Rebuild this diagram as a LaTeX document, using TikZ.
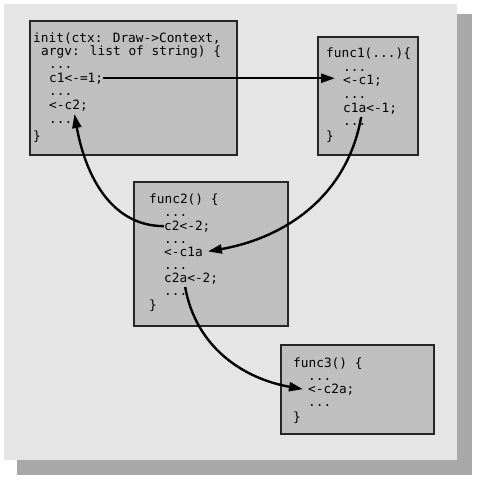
\documentclass[tikz,border=0pt]{standalone}
\usepackage{fontspec}
\newfontfamily\codefont{DejaVu Sans Mono}
\usetikzlibrary{arrows.meta,calc,positioning}

\begin{document}
\begin{tikzpicture}[
  x=1pt, y=-1pt,
  every node/.style={inner sep=0},
  fnbox/.style={draw=black!85, line width=1.6pt, fill=black!25, anchor=north west},
  code/.style={anchor=base west, font=\codefont\fontsize{12.8}{14}\selectfont},
  flow/.style={line width=2.4pt, -{Triangle[length=14pt,width=9pt]}}
]
\useasboundingbox (0,0) rectangle (478,480);
% backdrop and its shadow
\fill[black!34] (17,14) rectangle (472,475);
\fill[black!10] (4,4) rectangle (457,460);

% init
\node[fnbox, minimum width=207pt, minimum height=134pt] (init) at (29,20) {};
\node[code] (initsig) at (33,42) {init(ctx: Draw->Context,};
\node[code] (initargs) at (41,55) {argv: list of string) \{};
\node[code] (initdotsa) at (49,68) {...};
\node[code] (c1set) at (49,82) {c1<-=1;};
\node[code] (initdotsb) at (49,95) {...};
\node[code] (c2get) at (49,109) {<-c2;};
\node[code] (initdotsc) at (49,123) {...};
\node[code] (initend) at (33,140) {\}};

% func1
\node[fnbox, minimum width=100pt, minimum height=118pt] (func1) at (317,36) {};
\node[code] (funcasig) at (326,57) {func1(...)\{};
\node[code] (funcadotsa) at (343,71) {...};
\node[code] (c1get) at (343,84) {<-c1;};
\node[code] (funcadotsb) at (343,98) {...};
\node[code] (c1aset) at (343,112) {c1a<-1;};
\node[code] (funcadotsc) at (343,125) {...};
\node[code] (funcaend) at (326,140) {\}};

% func2
\node[fnbox, minimum width=154pt, minimum height=144pt] (func2) at (133,181) {};
\node[code] (funcbsig) at (149,203) {func2() \{};
\node[code] (funcbdotsa) at (164,216) {...};
\node[code] (c2set) at (164,230) {c2<-2;};
\node[code] (funcbdotsb) at (164,243) {...};
\node[code] (c1aget) at (164,256) {<-c1a};
\node[code] (funcbdotsc) at (164,269) {...};
\node[code] (c2aset) at (164,282) {c2a<-2;};
\node[code] (funcbdotsd) at (164,295) {...};
\node[code] (funcbend) at (149,309) {\}};

% func3
\node[fnbox, minimum width=153pt, minimum height=89pt] (func3) at (280,344) {};
\node[code] (funccsig) at (293,367) {func3() \{};
\node[code] (funccdotsa) at (308,380) {...};
\node[code] (c2aget) at (308,393) {<-c2a;};
\node[code] (funccdotsb) at (308,406) {...};
\node[code] (funccend) at (293,421) {\}};

% data flow
\draw[flow] (c1set.east) -- ([xshift=-8pt]c1set.east -| c1get.west);
\draw[flow] ($(c1aset.south)+(-9,3)$) to[out=-100, in=10] ([xshift=5pt]c1aget.east);
\draw[flow] (c2set.west) to[out=180, in=-80] ($(c2get.south)+(6,3)$);
\draw[flow] ($(c2aset.south)+(-6,3)$) to[out=-80, in=170] ([xshift=-5pt]c2aget.west);
\end{tikzpicture}
\end{document}
